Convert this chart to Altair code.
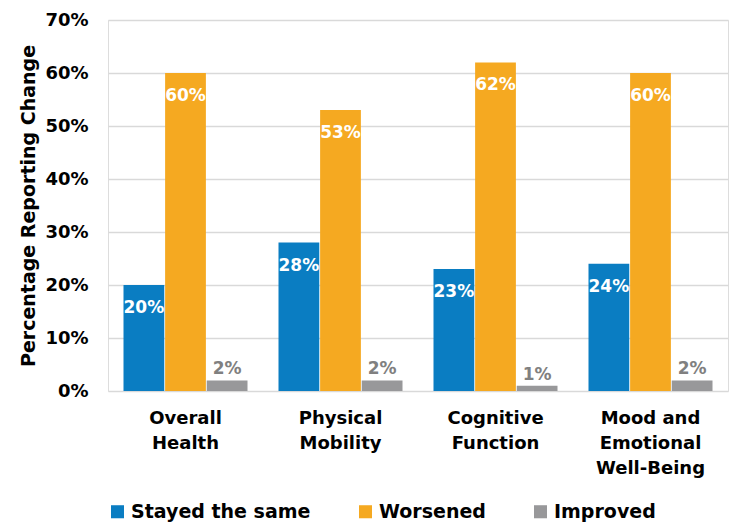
import altair as alt
import pandas as pd

categories = ["Overall|Health", "Physical|Mobility", "Cognitive|Function", "Mood and|Emotional|Well-Being"]
series = ["Stayed the same", "Worsened", "Improved"]
stayed = [20, 28, 23, 24]
worsened = [60, 53, 62, 60]
improved = [2, 2, 1, 2]
colors = ["#0A7DC2", "#F5A921", "#98989A"]

rows = []
for i, c in enumerate(categories):
    for s, vals in zip(series, [stayed, worsened, improved]):
        rows.append({"cat": c, "series": s, "value": vals[i] / 100.0,
                     "label": f"{vals[i]}%"})
df = pd.DataFrame(rows)

FONT = "DejaVu Sans"

x = alt.X("cat:N", sort=categories, title=None,
          scale=alt.Scale(paddingInner=0.2, paddingOuter=0.1),
          axis=alt.Axis(labelExpr="split(datum.label, '|')", labelAngle=0,
                        labelFontSize=18, labelFontWeight="bold", labelColor="#000000",
                        labelFont=FONT, labelPadding=18, labelLineHeight=25,
                        labelBaseline="top", ticks=False, domain=False))
xo = alt.XOffset("series:N", sort=series, scale=alt.Scale(paddingInner=0.02))
y = alt.Y("value:Q", title="Percentage Reporting Change",
          scale=alt.Scale(domain=[0, 0.7]),
          axis=alt.Axis(format=".0%", values=[0, .1, .2, .3, .4, .5, .6, .7],
                        labelFontSize=18, labelFontWeight="bold", labelColor="#000000",
                        labelFont=FONT, labelPadding=20, ticks=False, domain=False,
                        gridColor="#D9D9D9", gridWidth=1.5,
                        titleFontSize=19, titleFontWeight="bold", titleColor="#000000",
                        titleFont=FONT, titleX=-80, titleY=185.5, titleAngle=-90,
                        titleAlign="center", titleBaseline="middle"))

bars = alt.Chart(df).mark_bar().encode(
    x=x, xOffset=xo, y=y,
    color=alt.Color("series:N", sort=series,
                    scale=alt.Scale(domain=series, range=colors),
                    legend=alt.Legend(title=None, orient="none", legendX=0, legendY=482,
                                      direction="horizontal", columns=3, columnPadding=45,
                                      symbolType="square", symbolSize=170,
                                      symbolStrokeWidth=0, symbolOpacity=1,
                                      labelFontSize=19, labelFontWeight="bold",
                                      labelColor="#000000", labelFont=FONT,
                                      labelOffset=4, labelLimit=300))
)

inside = alt.Chart(df).transform_filter(alt.datum.series != "Improved").mark_text(
    baseline="top", dy=15, color="white", fontSize=17, fontWeight="bold", font=FONT
).encode(x=alt.X("cat:N", sort=categories), xOffset=xo, y="value:Q", text="label:N")

above = alt.Chart(df).transform_filter(alt.datum.series == "Improved").mark_text(
    baseline="bottom", dy=-2, color="#808080", fontSize=17, fontWeight="bold", font=FONT
).encode(x=alt.X("cat:N", sort=categories), xOffset=xo, y="value:Q", text="label:N")

chart = alt.layer(bars, inside, above).properties(
    width=620, height=371,
    autosize=alt.AutoSizeParams(type="none"),
    padding={"left": 108, "top": 20, "right": 2, "bottom": 134},
).configure_view(stroke=None).configure(background="white")

chart.save("out.html", embed_options={"renderer": "svg", "actions": False})
